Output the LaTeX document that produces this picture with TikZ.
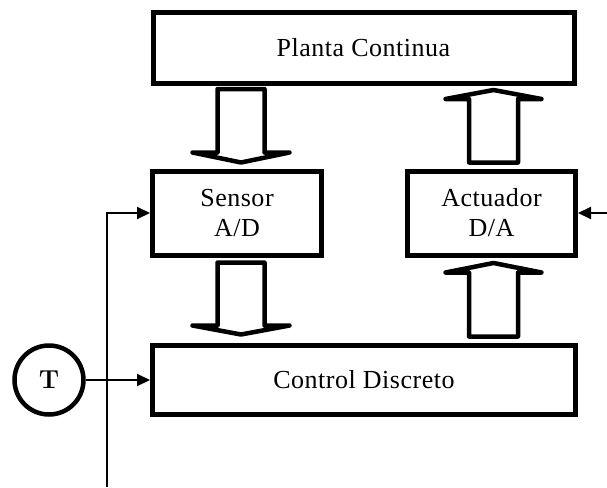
\documentclass[tikz,border=0pt]{standalone}
\usepackage{fontspec}
\newfontfamily\timesf[LetterSpace=2]{Liberation Serif}
\usetikzlibrary{arrows.meta}
\begin{document}
\begin{tikzpicture}[x=1pt,y=-1pt,
  blk/.style={draw,line width=5pt,inner sep=0pt,font=\fontsize{26}{30}\selectfont\timesf,align=center},
  hollow/.style={draw,line width=4.5pt,line join=round,fill=white},
  sig/.style={line width=2pt,-{Triangle[length=13pt,width=12pt]}},
]
\useasboundingbox (0,0) rectangle (607,487);
\node[blk,minimum width=421pt,minimum height=70pt] (planta) at (363.5,48) {Planta Continua};
\node[blk,minimum width=169pt,minimum height=84pt] (sensor) at (237,213) {Sensor\\A/D};
\node[blk,minimum width=168pt,minimum height=84pt] (actuador) at (491.5,213) {Actuador\\D/A};
\node[blk,minimum width=423pt,minimum height=69pt] (control) at (364,380) {Control Discreto};
\node[draw,circle,line width=4.5pt,minimum size=69pt,inner sep=0pt,font=\fontsize{26}{26}\selectfont\bfseries] (t) at (49,380) {T};
% hollow block arrows
\draw[hollow] (217.5,89) -- (217.5,152.5) -- (192.5,152.5) -- (241,162.5) -- (289.5,152.5) -- (264.5,152.5) -- (264.5,89) -- cycle;
\draw[hollow] (217.5,262.5) -- (217.5,325.5) -- (192.5,325.5) -- (241,334.5) -- (289.5,325.5) -- (264.5,325.5) -- (264.5,262.5) -- cycle;
\draw[hollow] (469,162.5) -- (469,99) -- (445.5,99) -- (493.5,90) -- (541.5,99) -- (518,99) -- (518,162.5) -- cycle;
\draw[hollow] (469,336.5) -- (469,272.5) -- (445.5,272.5) -- (493.5,263) -- (541.5,272.5) -- (518,272.5) -- (518,336.5) -- cycle;
% signal lines
\coordinate (vbot) at (107,487);
\coordinate (aright) at (607,213);
\draw[sig] (vbot) |- (sensor.west);
\draw[sig] (t) -- (control.west);
\draw[sig] (aright) -- (actuador.east);
\end{tikzpicture}
\end{document}
